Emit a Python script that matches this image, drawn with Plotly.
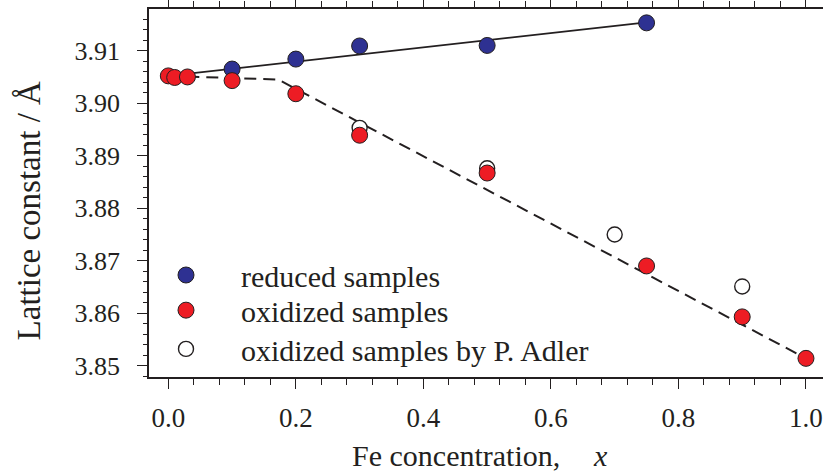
import plotly.graph_objects as go

# ---- data ----
reduced_x = [0.1, 0.2, 0.3, 0.5, 0.75]
reduced_y = [3.9065, 3.9084, 3.9109, 3.9110, 3.9153]

oxidized_x = [0.0, 0.01, 0.03, 0.1, 0.2, 0.3, 0.5, 0.75, 0.9, 1.0]
oxidized_y = [3.9052, 3.9049, 3.9050, 3.9043, 3.9018, 3.8939, 3.8867, 3.8690, 3.8593, 3.8514]

adler_x = [0.3, 0.5, 0.7, 0.9]
adler_y = [3.8953, 3.8876, 3.8750, 3.8651]

reduced_fit_x = [0.0, 0.75]
reduced_fit_y = [3.9052, 3.9154]

oxidized_fit_x = [0.0, 0.1725, 1.0]
oxidized_fit_y = [3.9052, 3.9045, 3.8514]

x_tick_vals = [0.0, 0.2, 0.4, 0.6, 0.8, 1.0]
x_tick_text = ["0.0", "0.2", "0.4", "0.6", "0.8", "1.0"]
y_tick_vals = [3.85, 3.86, 3.87, 3.88, 3.89, 3.90, 3.91]
y_tick_text = ["3.85", "3.86", "3.87", "3.88", "3.89", "3.90", "3.91"]

FONT = "Liberation Serif, Times New Roman, serif"
INK = "#231f20"
BLUE = "#2e3192"
RED = "#ed1c24"
MSIZE = 16
LEG_FONT = dict(family=FONT, size=30, color=INK)

fig = go.Figure()

fig.add_trace(go.Scatter(x=reduced_fit_x, y=reduced_fit_y, mode="lines",
                         line=dict(color=INK, width=1.8), showlegend=False, hoverinfo="skip"))
fig.add_trace(go.Scatter(x=oxidized_fit_x, y=oxidized_fit_y, mode="lines",
                         line=dict(color=INK, width=2, dash="12px,7px"), showlegend=False, hoverinfo="skip"))

fig.add_trace(go.Scatter(x=reduced_x, y=reduced_y, mode="markers", name="reduced samples",
                         legend="legend",
                         marker=dict(size=MSIZE, color=BLUE, line=dict(color=INK, width=1))))
fig.add_trace(go.Scatter(x=adler_x, y=adler_y, mode="markers", name="oxidized samples by P. Adler",
                         legend="legend3",
                         marker=dict(size=MSIZE - 1, color="white", line=dict(color=INK, width=1.4))))
fig.add_trace(go.Scatter(x=oxidized_x, y=oxidized_y, mode="markers", name="oxidized samples",
                         legend="legend2",
                         marker=dict(size=MSIZE, color=RED, line=dict(color=INK, width=1))))

xr = [-0.0303, 1.0267]
yr = [3.84785, 3.91794]

LEG_X = -0.0267
leg_common = dict(x=LEG_X, xanchor="left", yanchor="top", font=LEG_FONT,
                  bgcolor="rgba(0,0,0,0)", itemwidth=100)

fig.update_layout(
    width=823, height=472,
    margin=dict(l=149, r=0, t=9, b=95, autoexpand=False),
    paper_bgcolor="white", plot_bgcolor="white",
    font=dict(family=FONT, color=INK),
    showlegend=True,
    legend=dict(y=0.3478, **leg_common),
    legend2=dict(y=0.2523, **leg_common),
    legend3=dict(y=0.1470, **leg_common),
    xaxis=dict(range=xr, showgrid=False, zeroline=False, automargin=False,
               showline=True, mirror="ticks", linecolor=INK, linewidth=1.6,
               ticks="outside", ticklen=10, tickwidth=1.4, tickcolor=INK,
               tickvals=x_tick_vals, ticktext=x_tick_text, ticklabelstandoff=6,
               tickfont=dict(family=FONT, size=27, color=INK),
               minor=dict(dtick=0.04, tick0=0, ticks="outside", ticklen=6, tickwidth=1.2, tickcolor=INK)),
    yaxis=dict(range=yr, showgrid=False, zeroline=False, automargin=False,
               showline=True, linecolor=INK, linewidth=1.6,
               ticks="outside", ticklen=10, tickwidth=1.4, tickcolor=INK,
               tickvals=y_tick_vals, ticktext=y_tick_text, ticklabelstandoff=12,
               tickfont=dict(family=FONT, size=26, color=INK),
               minor=dict(dtick=0.002, tick0=3.85, ticks="outside", ticklen=4, tickwidth=1.2, tickcolor=INK)),
    annotations=[
        dict(text="Fe concentration,", xref="paper", yref="paper", x=0.4555, y=-0.212,
             xanchor="center", yanchor="middle", showarrow=False,
             font=dict(family=FONT, size=30, color=INK)),
        dict(text="<i>x</i>", xref="paper", yref="paper", x=0.6706, y=-0.212,
             xanchor="center", yanchor="middle", showarrow=False,
             font=dict(family=FONT, size=30, color=INK)),
        dict(text="Lattice constant / Å", xref="paper", yref="paper", x=-0.178, y=0.45,
             xanchor="center", yanchor="middle", showarrow=False, textangle=-90,
             font=dict(family=FONT, size=33, color=INK)),
    ],
)

fig.write_html("out.html", config={"displayModeBar": False},
               post_script="document.body.style.margin='0';document.body.style.overflow='hidden';")
